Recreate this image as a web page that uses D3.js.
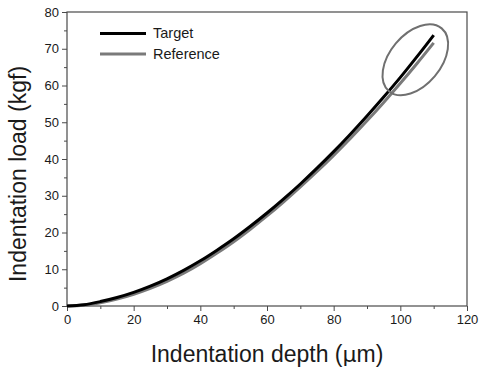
<!DOCTYPE html>
<html>
<head>
<meta charset="utf-8">
<script src="https://cdn.jsdelivr.net/npm/d3@7"></script>
<style>
  body { margin: 0; background: #fff; }
  svg text { font-family: Arial, "Liberation Sans", sans-serif; fill: #1a1a1a; }
</style>
</head>
<body>
<div id="chart"></div>
<script>
// depth in um, load in kgf
const depth = [0, 5, 10, 15, 20, 25, 30, 35, 40, 45, 50, 55, 60, 65, 70, 75, 80, 85, 90, 95, 100, 105, 110];
const targetLoad = [0, 0.35, 1.2, 2.3, 3.7, 5.4, 7.4, 9.7, 12.3, 15.2, 18.3, 21.7, 25.3, 29.15, 33.2, 37.5, 42.0, 46.75, 51.7, 56.85, 62.2, 67.85, 73.7];
const refLoad = [0, 0.2, 0.9, 1.9, 3.2, 4.8, 6.7, 8.9, 11.5, 14.4, 17.5, 20.9, 24.5, 28.35, 32.4, 36.6, 41.0, 45.6, 50.4, 55.4, 60.6, 66.0, 71.6];
const xTicks = [0, 20, 40, 60, 80, 100, 120];
const yTicks = [0, 10, 20, 30, 40, 50, 60, 70, 80];
const seriesNames = ["Target", "Reference"];
const seriesColors = ["#000000", "#7a7a7a"];
// circled region, in data units
const highlight = { x: 104.5, y: 67 };

const width = 479, height = 370;
const margin = { top: 12, right: 12, bottom: 64, left: 67 };

const svg = d3.select("#chart").append("svg")
    .attr("width", width)
    .attr("height", height);

const x = d3.scaleLinear().domain([0, 120]).range([margin.left, width - margin.right]);
const y = d3.scaleLinear().domain([0, 80]).range([height - margin.bottom, margin.top]);

const axisColor = "#4a4a4a";

// minor ticks first, then major axes
const xMinor = d3.axisBottom(x).tickValues(d3.range(10, 120, 20)).tickSize(3).tickFormat("");
const yMinor = d3.axisLeft(y).tickValues(d3.range(5, 80, 10)).tickSize(3).tickFormat("");

svg.append("g").attr("transform", `translate(0,${y(0)})`).call(xMinor);
svg.append("g").attr("transform", `translate(${x(0)},0)`).call(yMinor);

svg.append("g")
    .attr("transform", `translate(0,${y(0)})`)
    .call(d3.axisBottom(x).tickValues(xTicks).tickSize(5).tickPadding(4));
svg.append("g")
    .attr("transform", `translate(${x(0)},0)`)
    .call(d3.axisLeft(y).tickValues(yTicks).tickSize(5).tickPadding(3));

svg.selectAll(".domain").remove();
svg.selectAll(".tick line").attr("stroke", axisColor).attr("stroke-width", 1);
svg.selectAll(".tick text").attr("font-size", 13).attr("font-family", "Arial, 'Liberation Sans', sans-serif").attr("fill", "#1a1a1a");

// frame
svg.append("rect")
    .attr("x", x(0))
    .attr("y", y(80))
    .attr("width", x(120) - x(0))
    .attr("height", y(0) - y(80))
    .attr("fill", "none")
    .attr("stroke", axisColor)
    .attr("stroke-width", 1.2);

// curves
const line = d3.line().x(d => x(d[0])).y(d => y(d[1])).curve(d3.curveMonotoneX);
const series = [targetLoad, refLoad];

// draw reference underneath target
[1, 0].forEach(i => {
    svg.append("path")
        .datum(depth.map((d, j) => [d, series[i][j]]))
        .attr("d", line)
        .attr("fill", "none")
        .attr("stroke", seriesColors[i])
        .attr("stroke-width", 3)
        .attr("stroke-linecap", "butt");
});

// ellipse around the ends of the curves
svg.append("ellipse")
    .attr("cx", 0).attr("cy", 0)
    .attr("rx", 41).attr("ry", 25.5)
    .attr("transform", `translate(${x(highlight.x)},${y(highlight.y)}) rotate(-50)`)
    .attr("fill", "none")
    .attr("stroke", "#707070")
    .attr("stroke-width", 2);

// legend
const legend = svg.append("g");
seriesNames.forEach((name, i) => {
    const ly = 33.5 + i * 20.5;
    legend.append("line")
        .attr("x1", 100).attr("x2", 146)
        .attr("y1", ly).attr("y2", ly)
        .attr("stroke", seriesColors[i])
        .attr("stroke-width", 3);
    legend.append("text")
        .attr("x", 153)
        .attr("y", ly + 4.5)
        .attr("font-size", 14.5)
        .text(name);
});

// axis titles
svg.append("text")
    .attr("x", (x(0) + x(120)) / 2)
    .attr("y", 362)
    .attr("text-anchor", "middle")
    .attr("font-size", 23)
    .html('Indentation depth (<tspan font-family="Symbol, \'DejaVu Sans\', sans-serif" font-size="22">μ</tspan>m)');

svg.append("text")
    .attr("transform", `translate(26,${(y(0) + y(80)) / 2 + 15}) rotate(-90)`)
    .attr("text-anchor", "middle")
    .attr("font-size", 23)
    .text("Indentation load (kgf)");
</script>
</body>
</html>
